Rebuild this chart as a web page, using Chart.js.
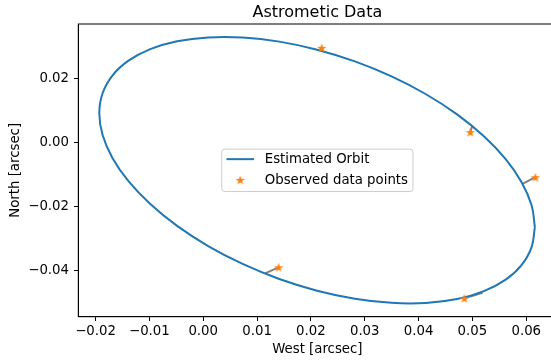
<!DOCTYPE html>
<html>
<head>
<meta charset="utf-8">
<script src="https://cdn.jsdelivr.net/npm/chart.js@4"></script>
<style>
  html, body { margin: 0; padding: 0; overflow: hidden; background: #fff; }
  #wrap { width: 580px; height: 360px; }
</style>
</head>
<body>
<div id="wrap"><canvas id="orbit" width="580" height="360"></canvas></div>
<script>
const titleText = 'Astrometic Data';
const xLabel = 'West [arcsec]';
const yLabel = 'North [arcsec]';
const seriesNames = ['Estimated Orbit', 'Observed data points'];

// estimated orbit, read off the picture going round the ellipse
const orbitWest = [0.06160, 0.06099, 0.05916, 0.05618, 0.05213, 0.04715, 0.04138, 0.03498, 0.02817, 0.02115,
  0.01413, 0.00732, 0.00092, -0.00485, -0.00983, -0.01388, -0.01686, -0.01869, -0.01930, -0.01869,
  -0.01686, -0.01388, -0.00983, -0.00485, 0.00092, 0.00732, 0.01413, 0.02115, 0.02817, 0.03498,
  0.04138, 0.04715, 0.05213, 0.05618, 0.05916, 0.06099, 0.06160];
const orbitNorth = [-0.02640, -0.01958, -0.01243, -0.00515, 0.00201, 0.00885, 0.01516, 0.02075, 0.02545, 0.02911,
  0.03163, 0.03293, 0.03296, 0.03173, 0.02927, 0.02567, 0.02103, 0.01548, 0.00920, 0.00238,
  -0.00477, -0.01205, -0.01921, -0.02605, -0.03236, -0.03795, -0.04265, -0.04631, -0.04883, -0.05013,
  -0.05016, -0.04893, -0.04647, -0.04287, -0.03823, -0.03268, -0.02640];

// observed positions and where they land on the orbit
const obsWest = [0.0220, 0.0496, 0.0617, 0.0140, 0.0485];
const obsNorth = [0.0297, 0.0033, -0.0108, -0.0390, -0.0487];
const predWest = [0.0222, 0.0500, 0.0593, 0.0115, 0.0519];
const predNorth = [0.0290, 0.0053, -0.0129, -0.0409, -0.0470];

const xTicks = [-0.02, -0.01, 0.00, 0.01, 0.02, 0.03, 0.04, 0.05, 0.06];
const yTicks = [-0.04, -0.02, 0.00, 0.02];
const xRange = [-0.0232, 0.0656];
const yRange = [-0.05446, 0.03715];

const blue = '#1f77b4';
const orange = '#ff7f0e';
const font = '"DejaVu Sans", "Liberation Sans", sans-serif';

function makeStar(size, color) {
  const c = document.createElement('canvas');
  c.width = size; c.height = size;
  const g = c.getContext('2d');
  const R = size / 2, r = R * 0.4;
  g.beginPath();
  for (let i = 0; i < 10; i++) {
    const ang = -Math.PI / 2 + i * Math.PI / 5;
    const rad = i % 2 ? r : R;
    const px = R + rad * Math.cos(ang), py = R + 0.5 + rad * Math.sin(ang);
    if (i === 0) g.moveTo(px, py); else g.lineTo(px, py);
  }
  g.closePath();
  g.fillStyle = color;
  g.fill();
  return c;
}
const star = makeStar(10, orange);

const fmt = v => {
  if (Math.abs(v) < 1e-9) v = 0;
  return (v < 0 ? '\u2212' : '') + Math.abs(v).toFixed(2);
};

const datasets = [
  {
    label: seriesNames[0],
    data: orbitWest.map((x, i) => ({ x: x, y: orbitNorth[i] })),
    showLine: true, borderColor: blue, borderWidth: 2, pointRadius: 0,
    tension: 0.4, order: 1
  },
  {
    label: seriesNames[1],
    data: obsWest.map((x, i) => ({ x: x, y: obsNorth[i] })),
    pointStyle: star, pointRadius: 5, order: 0
  }
];
obsWest.forEach((x, i) => {
  datasets.push({
    label: 'residual',
    data: [{ x: x, y: obsNorth[i] }, { x: predWest[i], y: predNorth[i] }],
    showLine: true, borderColor: '#808080', borderWidth: 2, pointRadius: 0, order: 2
  });
});

const decor = {
  id: 'decor',
  afterDraw(chart) {
    const { ctx, chartArea: a } = chart;
    ctx.save();
    ctx.strokeStyle = '#000';
    ctx.lineWidth = 1;
    ctx.strokeRect(a.left, a.top, a.right - a.left, a.bottom - a.top);

    const cx = (a.left + a.right) / 2, cy = (a.top + a.bottom) / 2;
    ctx.fillStyle = '#000';
    ctx.font = '16px ' + font;
    ctx.textAlign = 'center';
    ctx.textBaseline = 'alphabetic';
    ctx.fillText(titleText, cx, 17);

    // legend box in the middle, matplotlib style
    ctx.font = '13.3px ' + font;
    const tw = Math.max(...seriesNames.map(s => ctx.measureText(s).width));
    const w = 4.7 + 27.6 + 10.7 + tw + 5, h = 42.4;
    const x0 = cx - w / 2, y0 = cy - h / 2;
    ctx.beginPath();
    ctx.roundRect(x0, y0, w, h, 3);
    ctx.fillStyle = 'rgba(255,255,255,0.8)';
    ctx.fill();
    ctx.strokeStyle = '#cccccc';
    ctx.stroke();
    ctx.strokeStyle = blue;
    ctx.lineWidth = 2;
    ctx.beginPath();
    ctx.moveTo(x0 + 4.7, y0 + 10);
    ctx.lineTo(x0 + 32.3, y0 + 10);
    ctx.stroke();
    ctx.drawImage(star, x0 + 18.5 - 5, y0 + 30.7 - 5);
    ctx.fillStyle = '#000';
    ctx.textAlign = 'left';
    ctx.textBaseline = 'middle';
    ctx.fillText(seriesNames[0], x0 + 43, y0 + 10.5);
    ctx.fillText(seriesNames[1], x0 + 43, y0 + 31);
    ctx.restore();
  }
};

new Chart(document.getElementById('orbit'), {
  type: 'scatter',
  data: { datasets: datasets },
  options: {
    responsive: false,
    animation: false,
    layout: { padding: { left: 0, right: 23.6, top: 24, bottom: 0 } },
    plugins: { legend: { display: false }, tooltip: { enabled: false }, title: { display: false } },
    scales: {
      x: {
        type: 'linear', min: xRange[0], max: xRange[1],
        afterFit: s => { s.height = 43.3; },
        afterBuildTicks: s => { s.ticks = xTicks.map(v => ({ value: v })); },
        grid: { drawOnChartArea: false, color: '#000', tickLength: 4.3 },
        border: { color: '#000', width: 1 },
        ticks: { color: '#000', font: { family: font, size: 13.3 }, padding: 3, maxRotation: 0, callback: fmt },
        title: { display: true, text: xLabel, color: '#000', font: { family: font, size: 13.3 }, padding: { top: 0, bottom: 2.3 } }
      },
      y: {
        type: 'linear', min: yRange[0], max: yRange[1],
        afterFit: s => { s.width = 78.3; },
        afterBuildTicks: s => { s.ticks = yTicks.map(v => ({ value: v })); },
        grid: { drawOnChartArea: false, color: '#000', tickLength: 4.3 },
        border: { color: '#000', width: 1 },
        ticks: { color: '#000', font: { family: font, size: 13.3 }, padding: 5, callback: fmt },
        title: { display: true, text: yLabel, color: '#000', font: { family: font, size: 13.3 }, padding: { top: 7.4, bottom: 0 } }
      }
    }
  },
  plugins: [decor]
});
</script>
</body>
</html>
